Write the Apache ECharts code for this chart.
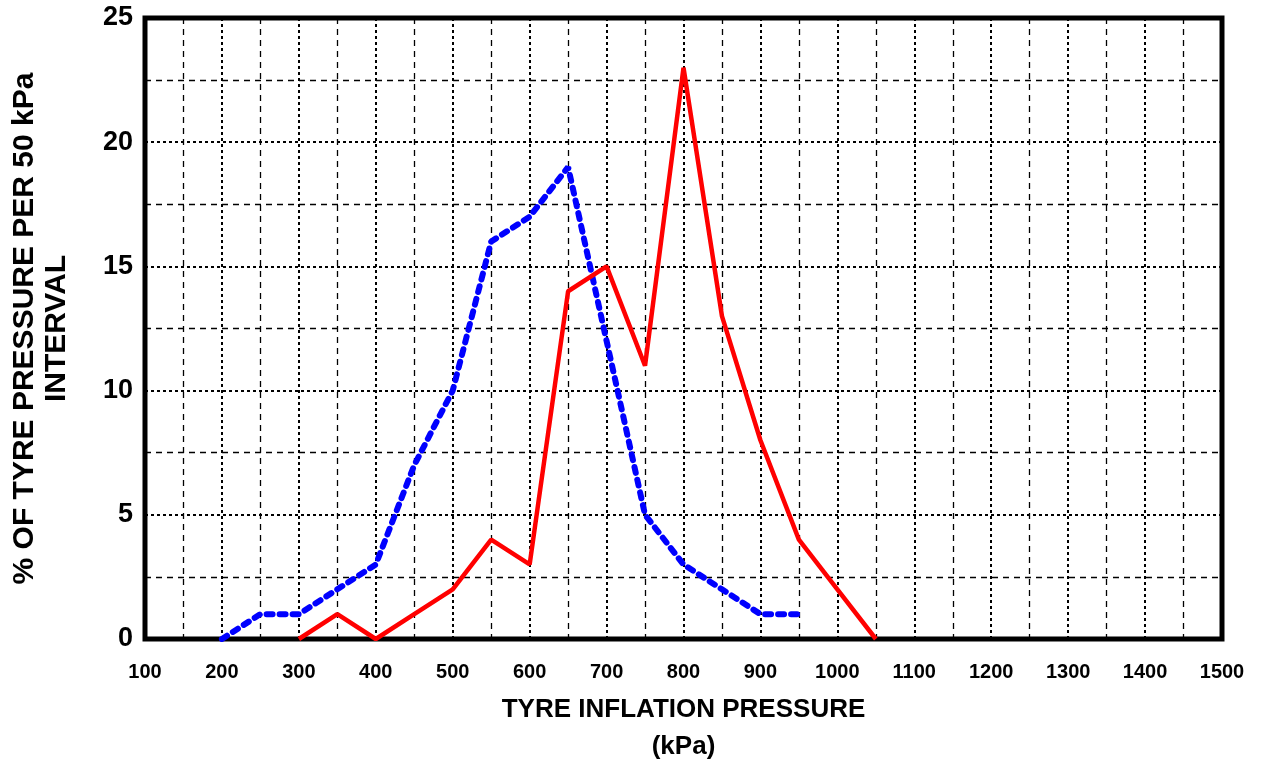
<!DOCTYPE html>
<html>
<head>
<meta charset="utf-8">
<script src="https://cdn.jsdelivr.net/npm/echarts@6/dist/echarts.min.js"></script>
<style>
  html, body { margin: 0; padding: 0; background: #fff; }
  #chart { width: 1263px; height: 760px; }
</style>
</head>
<body>
<div id="chart"></div>
<script>
  // pressure (kPa) and % per 50 kPa interval
  const bluePressure = [200, 250, 300, 350, 400, 450, 500, 550, 600, 650, 700, 750, 800, 850, 900, 950]
  const bluePercent = [0, 1, 1, 2, 3, 7, 10, 16, 17, 19, 12, 5, 3, 2, 1, 1]
  const redPressure = [300, 350, 400, 450, 500, 550, 600, 650, 700, 750, 800, 850, 900, 950, 1000, 1050]
  const redPercent = [0, 1, 0, 1, 2, 4, 3, 14, 15, 11, 23, 13, 8, 4, 2, 0]

  const font = 'Arial, "Liberation Sans", sans-serif'

  function pairs(xs, ys) {
    return xs.map((x, i) => [x, ys[i]])
  }

  const chart = echarts.init(document.getElementById('chart'))
  const majorLine = { show: true, lineStyle: { color: '#000', width: 2, type: [3, 3] } }
  const minorLine = { show: true, lineStyle: { color: '#000', width: 1.3, type: [6, 5] } }

  const option = {
    animation: false,
    grid: {
      left: 145, right: 41, top: 18, bottom: 121,
      outerBoundsMode: 'none',
      containLabel: false,
      show: true, borderColor: '#000', borderWidth: 5, backgroundColor: 'transparent'
    },
    xAxis: {
      type: 'value',
      min: 100, max: 1500, interval: 100,
      name: 'TYRE INFLATION PRESSURE\n(kPa)',
      nameLocation: 'middle',
      nameGap: 52,
      nameTextStyle: { fontFamily: font, fontWeight: 'bold', fontSize: 26, color: '#000', lineHeight: 37 },
      axisLine: { show: false },
      axisTick: { show: false },
      axisLabel: {
        fontFamily: font, fontWeight: 'bold', fontSize: 20, color: '#000', margin: 23,
        formatter: v => String(v)
      },
      splitLine: majorLine,
      minorTick: { show: false, splitNumber: 2 },
      minorSplitLine: minorLine
    },
    yAxis: {
      type: 'value',
      min: 0, max: 25, interval: 5,
      name: '% OF TYRE PRESSURE PER 50 kPa\nINTERVAL',
      nameLocation: 'middle',
      nameGap: 72,
      nameRotate: 90,
      nameTextStyle: { fontFamily: font, fontWeight: 'bold', fontSize: 30, color: '#000', lineHeight: 32 },
      axisLine: { show: false },
      axisTick: { show: false },
      axisLabel: { fontFamily: font, fontWeight: 'bold', fontSize: 27, color: '#000', margin: 12 },
      splitLine: majorLine,
      minorTick: { show: false, splitNumber: 2 },
      minorSplitLine: minorLine
    },
    series: [
      {
        type: 'line',
        data: pairs(bluePressure, bluePercent),
        symbol: 'none',
        lineStyle: { color: '#0000ff', width: 6, type: [6, 7], cap: 'round' },
        z: 3
      },
      {
        type: 'line',
        data: pairs(redPressure, redPercent),
        symbol: 'none',
        lineStyle: { color: '#ff0000', width: 4.5 },
        z: 4
      }
    ]
  }
  chart.setOption(option)
</script>
</body>
</html>
